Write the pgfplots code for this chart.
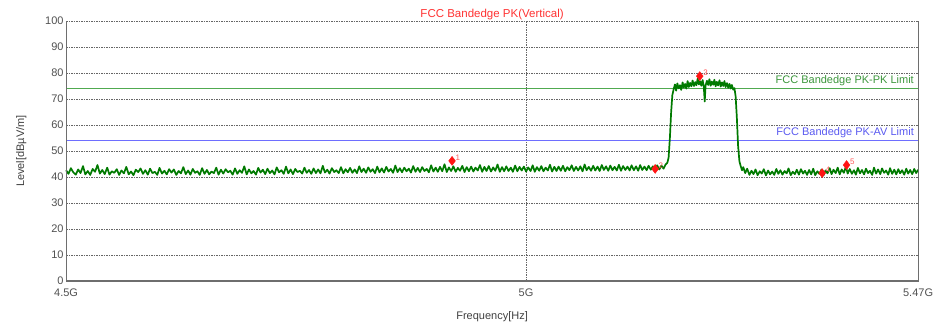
\documentclass[border=0pt]{standalone}
\usepackage{pgfplots}
\pgfplotsset{compat=1.18}
\usepackage{pgfplotstable}
\usepackage{fontspec}
\setmainfont{Liberation Sans}
\definecolor{trace}{RGB}{0,122,0}
\definecolor{pkline}{RGB}{80,170,80}
\definecolor{pktext}{RGB}{60,150,60}
\definecolor{avline}{RGB}{110,110,255}
\definecolor{avtext}{RGB}{90,90,240}
\definecolor{titlered}{RGB}{255,50,50}
\definecolor{mk}{RGB}{255,20,20}
\definecolor{mktext}{RGB}{255,90,90}
\definecolor{framegray}{RGB}{110,110,110}
\definecolor{tickgray}{RGB}{80,80,80}

\pgfplotstableread{
f lv lab
4.916 46.2 1
5.150 43.1 2
5.203 78.8 3
5.351 41.5 4
5.381 44.6 5
}\markerdata

\begin{document}
\begin{tikzpicture}
\begin{axis}[
  scale only axis,
  width=852pt, height=260pt,
  xmode=log,
  xmin=4.5, xmax=5.47,
  ymin=0, ymax=100,
  xtick={4.5,5,5.47},
  xticklabels={4.5G,5G,5.47G},
  ytick={0,10,...,100},
  minor xtick={},
  tick style={draw=none},
  axis line style={draw=none},
  grid=major,
  major grid style={draw=black!60, dash pattern=on 1.5pt off 1pt, line width=0.6pt},
  ticklabel style={font=\fontsize{11}{12}\selectfont, text=tickgray},
  /pgf/number format/assume math mode=true,
  xticklabel style={yshift=-4pt},
  yticklabel style={xshift=1pt},
  xlabel={Frequency[Hz]},
  ylabel={Level[dBµV/m]},
  label style={font=\fontsize{11}{12}\selectfont, text=black!75},
  xlabel style={yshift=-8pt},
  ylabel style={yshift=12pt},
  clip=false,
]
\addplot[draw=pkline, line width=1.3pt] coordinates {(4.5,74) (5.47,74)};
\addplot[draw=avline, line width=1.8pt] coordinates {(4.5,54) (5.47,54)};
\addplot[draw=trace, line width=1.7pt, line join=round] coordinates {
(4.5000,42.6) (4.5025,41.2) (4.5050,43.4) (4.5075,41.8) (4.5100,40.9) (4.5125,42.9) (4.5150,41.5) (4.5175,44.2)
(4.5200,41.0) (4.5225,42.3) (4.5250,40.8) (4.5275,43.1) (4.5300,42.0) (4.5325,44.6) (4.5350,41.3) (4.5375,42.7)
(4.5400,41.1) (4.5425,43.6) (4.5450,40.9) (4.5475,42.2) (4.5500,41.6) (4.5525,43.0) (4.5550,40.8) (4.5575,42.5)
(4.5600,41.4) (4.5625,43.9) (4.5650,41.0) (4.5675,42.1) (4.5700,40.7) (4.5725,42.8) (4.5750,41.9) (4.5775,43.3)
(4.5800,41.2) (4.5825,42.6) (4.5850,40.9) (4.5875,43.2) (4.5900,41.5) (4.5925,42.0) (4.5950,40.8) (4.5975,43.5)
(4.6000,41.3) (4.6025,42.4) (4.6050,41.0) (4.6075,43.0) (4.6100,41.7) (4.6125,42.9) (4.6150,40.8) (4.6175,42.3)
(4.6200,41.4) (4.6225,43.8) (4.6250,41.1) (4.6275,42.5) (4.6300,40.9) (4.6325,43.1) (4.6350,41.6) (4.6375,42.2)
(4.6400,40.8) (4.6425,43.4) (4.6450,41.2) (4.6475,42.7) (4.6500,41.0) (4.6525,42.1) (4.6550,41.5) (4.6575,43.6)
(4.6600,40.9) (4.6625,42.8) (4.6650,41.3) (4.6675,43.0) (4.6700,41.8) (4.6725,42.4) (4.6750,40.9) (4.6775,43.3)
(4.6800,41.2) (4.6825,42.6) (4.6850,41.6) (4.6875,44.1) (4.6900,41.0) (4.6925,42.9) (4.6950,41.4) (4.6975,42.3)
(4.7000,40.9) (4.7025,43.5) (4.7050,41.7) (4.7075,42.8) (4.7100,41.1) (4.7125,43.2) (4.7150,41.5) (4.7175,42.5)
(4.7200,41.0) (4.7225,43.7) (4.7250,41.8) (4.7275,42.6) (4.7300,41.2) (4.7325,44.0) (4.7350,41.4) (4.7375,42.9)
(4.7400,41.1) (4.7425,43.1) (4.7450,41.9) (4.7475,42.4) (4.7500,41.3) (4.7525,43.6) (4.7550,41.6) (4.7575,42.7)
(4.7600,41.2) (4.7625,43.3) (4.7650,41.5) (4.7675,42.9) (4.7700,41.4) (4.7725,44.3) (4.7750,41.7) (4.7775,42.8)
(4.7800,41.3) (4.7825,43.4) (4.7850,41.9) (4.7875,42.6) (4.7900,41.5) (4.7925,43.8) (4.7950,41.4) (4.7975,43.0)
(4.8000,41.8) (4.8025,43.5) (4.8050,41.6) (4.8075,42.9) (4.8100,41.5) (4.8125,44.1) (4.8150,41.9) (4.8175,43.2)
(4.8200,41.6) (4.8225,43.7) (4.8250,42.0) (4.8275,43.0) (4.8300,41.5) (4.8325,44.0) (4.8350,41.8) (4.8375,43.3)
(4.8400,41.7) (4.8425,43.9) (4.8450,42.1) (4.8475,43.1) (4.8500,41.6) (4.8525,44.4) (4.8550,41.9) (4.8575,43.4)
(4.8600,41.8) (4.8625,43.6) (4.8650,42.2) (4.8675,43.2) (4.8700,41.7) (4.8725,44.2) (4.8750,42.0) (4.8775,43.5)
(4.8800,41.9) (4.8825,43.8) (4.8850,42.3) (4.8875,43.1) (4.8900,41.8) (4.8925,44.5) (4.8950,42.1) (4.8975,43.6)
(4.9000,42.0) (4.9025,43.9) (4.9050,42.2) (4.9075,44.9) (4.9100,41.9) (4.9125,43.7) (4.9150,42.3) (4.9175,44.1)
(4.9200,42.0) (4.9225,43.5) (4.9250,42.4) (4.9275,44.3) (4.9300,41.9) (4.9325,43.8) (4.9350,42.2) (4.9375,44.0)
(4.9400,42.1) (4.9425,43.6) (4.9450,42.5) (4.9475,44.6) (4.9500,42.0) (4.9525,43.9) (4.9550,42.3) (4.9575,44.2)
(4.9600,42.1) (4.9625,43.7) (4.9650,42.4) (4.9675,44.8) (4.9700,42.0) (4.9725,43.8) (4.9750,42.2) (4.9775,44.1)
(4.9800,42.3) (4.9825,43.6) (4.9850,42.0) (4.9875,44.4) (4.9900,42.2) (4.9925,43.9) (4.9950,42.5) (4.9975,44.0)
(5.0000,42.1) (5.0025,43.7) (5.0050,42.3) (5.0075,44.5) (5.0100,42.0) (5.0125,43.8) (5.0150,42.4) (5.0175,44.2)
(5.0200,42.2) (5.0225,43.6) (5.0250,42.5) (5.0275,44.7) (5.0300,42.1) (5.0325,43.9) (5.0350,42.3) (5.0375,44.0)
(5.0400,42.4) (5.0425,44.3) (5.0450,42.2) (5.0475,43.8) (5.0500,42.6) (5.0525,44.5) (5.0550,42.3) (5.0575,43.9)
(5.0600,42.5) (5.0625,44.1) (5.0650,42.2) (5.0675,44.8) (5.0700,42.6) (5.0725,43.9) (5.0750,42.4) (5.0775,44.3)
(5.0800,42.5) (5.0825,44.0) (5.0850,42.3) (5.0875,44.6) (5.0900,42.7) (5.0925,44.1) (5.0950,42.4) (5.0975,44.4)
(5.1000,42.6) (5.1025,43.9) (5.1050,42.5) (5.1075,44.7) (5.1100,42.4) (5.1125,44.2) (5.1150,42.7) (5.1175,44.0)
(5.1200,42.5) (5.1225,44.5) (5.1250,42.6) (5.1275,44.1) (5.1300,42.4) (5.1325,44.6) (5.1350,42.7) (5.1375,44.0)
(5.1400,42.6) (5.1425,44.3) (5.1450,42.8) (5.1475,44.1) (5.1500,42.6) (5.1525,44.5) (5.1550,42.9) (5.1575,44.4)
(5.1600,43.2) (5.1625,44.8) (5.1645,45.5) (5.1660,47.5) (5.1675,55.0) (5.1690,65.0) (5.1705,71.5) (5.1720,73.8)
(5.1735,75.6) (5.1750,73.2) (5.1765,76.0) (5.1780,74.1) (5.1795,75.3) (5.1810,73.5) (5.1825,76.4) (5.1840,74.4)
(5.1855,75.8) (5.1870,74.0) (5.1885,76.9) (5.1900,74.6) (5.1915,76.2) (5.1930,74.9) (5.1945,77.1) (5.1960,75.0)
(5.1975,76.5) (5.1990,75.3) (5.2005,77.8) (5.2020,75.6) (5.2035,76.8) (5.2050,75.1) (5.2065,77.3) (5.2080,74.8)
(5.2090,69.0) (5.2100,75.2) (5.2115,77.0) (5.2130,75.4) (5.2145,77.6) (5.2160,75.1) (5.2175,76.7) (5.2190,75.5)
(5.2205,77.4) (5.2220,74.9) (5.2235,76.6) (5.2250,75.2) (5.2265,77.2) (5.2280,74.8) (5.2295,76.4) (5.2310,75.0)
(5.2325,76.9) (5.2340,74.6) (5.2355,76.1) (5.2370,74.3) (5.2385,75.8) (5.2400,74.0) (5.2415,75.4) (5.2430,73.6)
(5.2445,74.2) (5.2460,71.0) (5.2475,63.0) (5.2490,52.0) (5.2505,46.0) (5.2520,44.2) (5.2535,42.6) (5.2550,43.8)
(5.2575,41.5) (5.2600,43.2) (5.2625,40.8) (5.2650,42.4) (5.2675,41.1) (5.2700,42.9) (5.2725,40.7) (5.2750,42.2)
(5.2775,41.3) (5.2800,43.0) (5.2825,40.6) (5.2850,42.5) (5.2875,41.0) (5.2900,42.1) (5.2925,40.8) (5.2950,43.1)
(5.2975,41.2) (5.3000,42.6) (5.3025,40.9) (5.3050,42.3) (5.3075,41.4) (5.3100,43.3) (5.3125,40.7) (5.3150,42.0)
(5.3175,41.1) (5.3200,42.8) (5.3225,40.9) (5.3250,43.0) (5.3275,41.3) (5.3300,42.4) (5.3325,40.8) (5.3350,42.7)
(5.3375,41.0) (5.3400,43.2) (5.3425,40.7) (5.3450,42.2) (5.3475,41.2) (5.3500,42.9) (5.3525,40.6) (5.3550,42.5)
(5.3575,41.4) (5.3600,43.4) (5.3625,41.1) (5.3650,42.8) (5.3675,41.5) (5.3700,43.6) (5.3725,41.0) (5.3750,42.9)
(5.3775,41.6) (5.3800,44.0) (5.3825,41.3) (5.3850,43.1) (5.3875,41.2) (5.3900,42.6) (5.3925,40.9) (5.3950,43.5)
(5.3975,41.4) (5.4000,42.7) (5.4025,41.0) (5.4050,43.2) (5.4075,41.5) (5.4100,42.4) (5.4125,40.8) (5.4150,43.6)
(5.4175,41.3) (5.4200,42.9) (5.4225,41.1) (5.4250,43.3) (5.4275,41.6) (5.4300,42.5) (5.4325,40.9) (5.4350,43.4)
(5.4375,41.2) (5.4400,42.8) (5.4425,41.0) (5.4450,43.0) (5.4475,41.4) (5.4500,42.6) (5.4525,40.9) (5.4550,43.2)
(5.4575,41.3) (5.4600,42.7) (5.4625,41.1) (5.4650,43.1) (5.4675,41.5) (5.4700,42.8)
};
\addplot[only marks, mark=diamond*, mark size=4.5pt, color=mk,
  nodes near coords, point meta=explicit symbolic,
  every node near coord/.style={anchor=south west, font=\fontsize{8}{9}\selectfont, text=mktext, xshift=0pt, yshift=-3pt}]
  table[x=f, y=lv, meta=lab] {\markerdata};
\draw[framegray, line width=1.1pt] (rel axis cs:0,1) -- (rel axis cs:0,0) -- (rel axis cs:1,0) -- (rel axis cs:1,1);
\node[anchor=south east, text=pktext, font=\fontsize{11}{12}\selectfont, inner sep=1pt] at (axis cs:5.466,74.6) {FCC Bandedge PK-PK Limit};
\node[anchor=south east, text=avtext, font=\fontsize{11}{12}\selectfont, inner sep=1pt] at (axis cs:5.466,54.6) {FCC Bandedge PK-AV Limit};
\node[anchor=south, text=titlered, font=\fontsize{11.5}{12}\selectfont, inner sep=1pt] at (rel axis cs:0.5,1) {FCC Bandedge PK(Vertical)};
\path (rel axis cs:0,0) ++(-66pt,-42pt) coordinate (bbsw);
\path (rel axis cs:1,1) ++(19pt,21pt) coordinate (bbne);
\end{axis}
\useasboundingbox (bbsw) rectangle (bbne);
\end{tikzpicture}
\end{document}
